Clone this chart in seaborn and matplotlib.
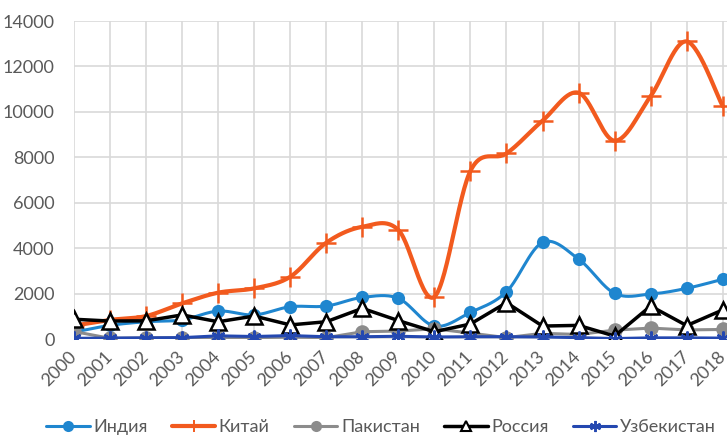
import numpy as np
import pandas as pd
import matplotlib
matplotlib.use("Agg")
import matplotlib.pyplot as plt
from matplotlib.lines import Line2D
import seaborn as sns

# ------------------------------------------------------------------
# Data
# ------------------------------------------------------------------
years = list(range(2000, 2019))
india = [300, 600, 760, 840, 1230, 1060, 1420, 1450, 1830, 1790, 570, 1170,
         2080, 4250, 3520, 2010, 1980, 2230, 2630]
china = [590, 840, 1010, 1570, 2040, 2230, 2740, 4240, 4940, 4800, 1860, 7400,
         8170, 9610, 10840, 8730, 10690, 13100, 10250]
pakistan = [330, 30, 50, 60, 60, 60, 80, 60, 320, 350, 450, 260,
            60, 250, 200, 390, 480, 400, 420]
russia = [870, 790, 800, 1060, 760, 1010, 620, 760, 1350, 810, 320, 660,
          1600, 570, 600, 130, 1450, 590, 1280]
uzbek = [30, 40, 50, 60, 140, 110, 150, 100, 100, 120, 90, 100,
         100, 90, 60, 20, 50, 50, 40]

names = ["Индия", "Китай", "Пакистан", "Россия", "Узбекистан"]
colors = ["#1f86cf", "#f25a1e", "#8c8c8c", "#000000", "#2448b0"]


def excel_smooth(x, y, n=30):
    """Bezier smoothing the way Excel draws 'smoothed line' series."""
    x = np.asarray(x, float)
    y = np.asarray(y, float)
    px = np.concatenate([[x[0]], x, [x[-1]]])
    py = np.concatenate([[y[0]], y, [y[-1]]])
    t = np.linspace(0, 1, n)
    xs, ys = [], []
    for i in range(len(x) - 1):
        p0 = np.array([px[i], py[i]])
        p1 = np.array([px[i + 1], py[i + 1]])
        p2 = np.array([px[i + 2], py[i + 2]])
        p3 = np.array([px[i + 3], py[i + 3]])
        c1 = p1 + (p2 - p0) / 6
        c2 = p2 - (p3 - p1) / 6
        b = ((1 - t) ** 3)[:, None] * p1 + (3 * (1 - t) ** 2 * t)[:, None] * c1 \
            + (3 * (1 - t) * t ** 2)[:, None] * c2 + (t ** 3)[:, None] * p2
        xs.append(b[:, 0])
        ys.append(b[:, 1])
    return np.concatenate(xs), np.concatenate(ys)


sns.set_theme(style="white")
plt.rcParams["font.family"] = ["Lato", "DejaVu Sans"]

fig = plt.figure(figsize=(7.27, 4.36), dpi=100)
ax = fig.add_axes([74 / 727, 1 - 339 / 436, 653 / 727, 318 / 436])

# India (smoothed)
sx, sy = excel_smooth(years, india)
sns.lineplot(x=sx, y=sy, sort=False, ax=ax, color=colors[0], lw=2.2, zorder=3)
sns.scatterplot(x=years, y=india, ax=ax, color=colors[0], s=90, edgecolor=colors[0],
                linewidth=0, zorder=4)

# China (smoothed)
sx, sy = excel_smooth(years, china)
sns.lineplot(x=sx, y=sy, sort=False, ax=ax, color=colors[1], lw=3, zorder=5)
sns.scatterplot(x=years, y=china, ax=ax, color=colors[1], marker="+", s=220,
                linewidth=1.8, zorder=6)

# Pakistan
sns.lineplot(x=years, y=pakistan, ax=ax, color=colors[2], lw=2.2, marker="o",
             markersize=10.5, markeredgewidth=0, zorder=7)

# Russia
sns.lineplot(x=years, y=russia, ax=ax, color=colors[3], lw=2.5, marker="^",
             markersize=12, markerfacecolor="white", markeredgecolor="black",
             markeredgewidth=1.8, zorder=8)

# Uzbekistan
sns.lineplot(x=years, y=uzbek, ax=ax, color=colors[4], lw=2.2, marker=(6, 2, 0),
             markersize=10, markeredgewidth=1.6, markeredgecolor=colors[4], zorder=9)

ax.set_xlim(2000, 2000 + 653 / 36.04)
ax.set_ylim(0, 14000)
ax.set_xticks(years)
ax.set_xticklabels([str(y) for y in years], rotation=45, ha="right", va="center",
                   rotation_mode="anchor")
ax.set_yticks(range(0, 14001, 2000))
ax.grid(True, color="#d9d9d9", lw=1.2)
ax.set_axisbelow(True)
for s in ax.spines.values():
    s.set_visible(False)
ax.tick_params(axis="both", length=0, labelsize=13, colors="#595959")
ax.tick_params(axis="y", pad=14)
ax.tick_params(axis="x", pad=11)
ax.set_xlabel("")
ax.set_ylabel("")

handles = [
    Line2D([], [], color=colors[0], lw=2.2, marker="o", markersize=8, markeredgewidth=0),
    Line2D([], [], color=colors[1], lw=3, marker="+", markersize=9, markeredgewidth=1.4),
    Line2D([], [], color=colors[2], lw=2.2, marker="o", markersize=8, markeredgewidth=0),
    Line2D([], [], color="black", lw=2.5, marker="^", markersize=7,
           markerfacecolor="white", markeredgewidth=1.5),
    Line2D([], [], color=colors[4], lw=2.2, marker=(6, 2, 0), markersize=8,
           markeredgewidth=1.4, markeredgecolor=colors[4]),
]
fig.legend(handles, names, loc="center", bbox_to_anchor=(381 / 727, 1 - 427 / 436),
           ncol=5, frameon=False, fontsize=13, handlelength=2.4, handletextpad=0.2,
           columnspacing=1.35, labelcolor="#595959", borderaxespad=0, borderpad=0)

fig.savefig("out.png", dpi=100)
